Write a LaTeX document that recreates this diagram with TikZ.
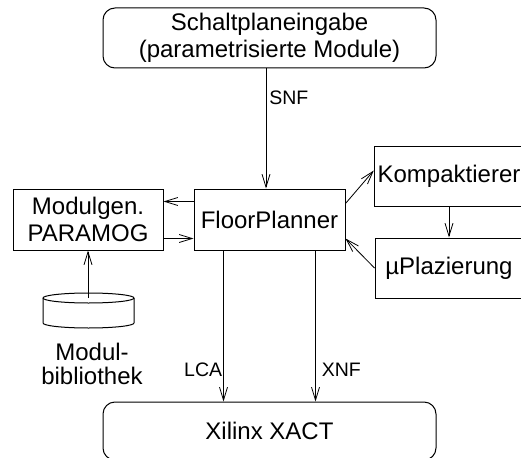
\documentclass[tikz,border=0pt]{standalone}
\usepackage{fontspec}
\setmainfont{Liberation Sans}
\usetikzlibrary{arrows.meta}

\tikzstyle{box} = [rectangle, draw=black, line width=1pt, minimum width=150pt,
minimum height=61pt, align=center, font=\fontsize{24}{27}\selectfont]
\tikzstyle{roundbox} = [rectangle, rounded corners=12pt, draw=black, line width=1pt,
minimum width=333pt, minimum height=60pt, align=center, font=\fontsize{24}{27}\selectfont]
\tikzstyle{lbl} = [inner sep=1pt, font=\fontsize{19.5}{22}\selectfont]
\tikzstyle{arrow} = [line width=0.8pt,->,>={Straight Barb[length=13pt,width=8pt]}]

\begin{document}
\begin{tikzpicture}[x=1pt, y=1pt, node distance=181.5pt]
\useasboundingbox (0,0) rectangle (521,-457);
\node (floor)[box, minimum width=151pt] at (269.5,-219.5){FloorPlanner};
\node (eingabe)[roundbox, above of=floor]{Schaltplaneingabe\\(parametrisierte Module)};
\node (modgen)[box, left of=floor]{Modulgen.\\PARAMOG};
\node (kompakt)[box, minimum width=148pt, minimum height=59pt, right of=floor, xshift=-2pt, yshift=43pt]{Kompaktierer};
\node (plaz)[box, minimum width=148pt, minimum height=60pt, right of=floor, xshift=-2pt, yshift=-48.5pt]{µPlazierung};
\node (xact)[roundbox, minimum height=58pt, below of=floor, yshift=-30pt]{Xilinx XACT};

% Modulbibliothek als Zylinder
\draw[line width=1pt] (88.5,-298) ellipse [x radius=45.5, y radius=5];
\draw[line width=1pt] (43,-298) -- (43,-323) arc [start angle=180, end angle=360, x radius=45.5, y radius=5] -- (134,-298);
\coordinate (lib) at (88,-298);
\node (libname)[inner sep=0pt, align=center, font=\fontsize{24}{24}\selectfont] at (92,-364){Modul-\\bibliothek};

\coordinate (lca) at ([xshift=30pt]floor.south west);
\coordinate (xnf) at ([xshift=-30pt]floor.south east);

\draw [arrow]([xshift=-3.5pt]eingabe.south) -- node[lbl, anchor=west, pos=0.24, xshift=2pt](snf){SNF} ([xshift=-3.5pt]floor.north);
\draw [arrow]([yshift=-13pt]floor.north west) -- ([yshift=-13pt]modgen.north east);
\draw [arrow]([yshift=12pt]modgen.south east) -- ([yshift=12pt]floor.south west);
\draw [arrow](lib) -- (modgen);
\draw [arrow]([yshift=-15pt]floor.north east) -- ([yshift=6pt]kompakt.west);
\draw [arrow](kompakt) -- (plaz);
\draw [arrow](plaz.west) -- ([yshift=12pt]floor.south east);
\draw [arrow](lca) -- node[lbl, anchor=east, pos=0.79](lcalabel){LCA} (lca |- xact.north);
\draw [arrow](xnf) -- node[lbl, anchor=west, pos=0.79, xshift=5pt](xnflabel){XNF} (xnf |- xact.north);
\end{tikzpicture}
\end{document}
